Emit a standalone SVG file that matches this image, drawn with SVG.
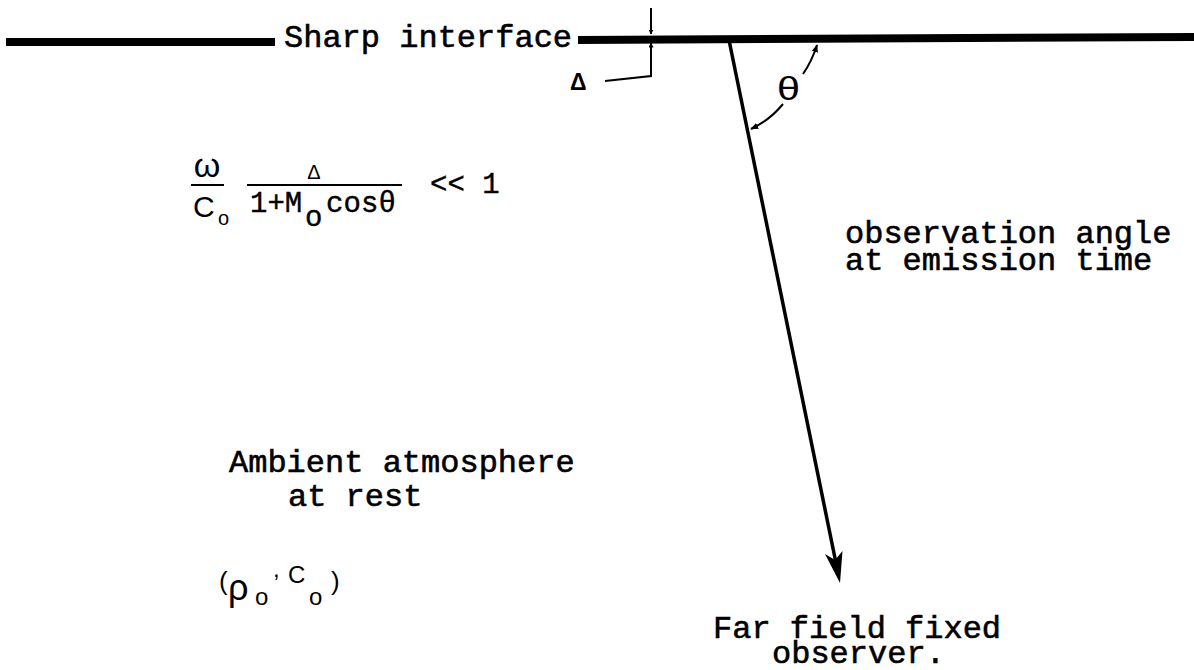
<svg xmlns="http://www.w3.org/2000/svg" width="1194" height="670" viewBox="0 0 1194 670">
<style>
.t{font-family:"Liberation Mono","Courier New",monospace;font-size:32px;fill:#000;stroke:#000;stroke-width:0.6}
.m{font-family:"Liberation Mono","Courier New",monospace;font-size:29px;fill:#000;stroke:#000;stroke-width:0.4}
.s{font-family:"Liberation Sans","DejaVu Sans",sans-serif;fill:#000}
.thin{stroke:#000;stroke-width:2;fill:none}
</style>
<defs>
<marker id="ah" viewBox="0 0 10 10" refX="9" refY="5" markerWidth="5" markerHeight="5" markerUnits="userSpaceOnUse" orient="auto">
<path d="M0,0 L10,5 L0,10 Z" fill="#000"/>
</marker>
<marker id="ahs" viewBox="0 0 10 10" refX="9" refY="5" markerWidth="8" markerHeight="8" markerUnits="userSpaceOnUse" orient="auto">
<path d="M0,1 L10,5 L0,9 Z" fill="#000"/>
</marker>
</defs>
<rect width="1194" height="670" fill="#fff"/>

<g id="interface">
<path d="M6,42 L275,42" stroke="#000" stroke-width="8" fill="none"/>
<path d="M578,40 L1194,37" stroke="#000" stroke-width="8" fill="none"/>
<text class="t" x="284" y="47">Sharp interface</text>
</g>

<g id="delta-label">
<text class="s" x="570" y="90" font-size="23" font-weight="bold">Δ</text>
</g>

<g id="theta-label">
<text class="s" x="777" y="100" font-size="34" font-family="DejaVu Sans" textLength="23" lengthAdjust="spacingAndGlyphs">θ</text>
</g>

<g id="condition">
<text class="s" x="207" y="177" font-size="34" text-anchor="middle" font-family="DejaVu Sans">ω</text>
<line class="thin" x1="191" y1="185" x2="224" y2="185"/>
<text class="s" x="193" y="217" font-size="30">C</text>
<text class="s" x="218" y="225" font-size="20">o</text>
<text class="s" x="314" y="179" font-size="20" text-anchor="middle">Δ</text>
<line class="thin" x1="247" y1="185" x2="402" y2="185"/>
<text class="m" x="250" y="212">1+M</text>
<text class="m" x="305" y="226" font-size="26">o</text>
<text class="m" x="326" y="212" textLength="70">cosθ</text>
<text class="m" x="430" y="193">&lt;&lt; 1</text>
</g>

<g id="observation-label">
<text class="t" x="845" y="243">observation angle</text>
<text class="t" x="845" y="270">at emission time</text>
</g>

<g id="ambient-label">
<text class="t" x="229" y="472">Ambient atmosphere</text>
<text class="t" x="288" y="506">at rest</text>
<g class="s">
<text x="219" y="590" font-size="26">(</text>
<text x="228" y="600" font-size="36">ρ</text>
<text x="255" y="605" font-size="24">o</text>
<text x="273" y="577" font-size="24">,</text>
<text x="288" y="583" font-size="24">C</text>
<text x="309" y="605" font-size="24">o</text>
<text x="331" y="590" font-size="26">)</text>
</g>
</g>

<g id="observer-label">
<text class="t" x="713" y="638">Far field fixed</text>
<text class="t" x="772" y="663">observer.</text>
</g>

<g id="connectors">
<line x1="729" y1="40" x2="836" y2="563" stroke="#000" stroke-width="3.5"/>
<path d="M840,583 L825,554 L835,560 L842.5,551 Z" fill="#000"/>
<line class="thin" x1="651" y1="8" x2="651" y2="34" marker-end="url(#ah)"/>
<polyline class="thin" points="605,81 651,76 651,43" marker-end="url(#ah)"/>
<path class="thin" d="M803,74 Q812,61 817,45" marker-end="url(#ahs)"/>
<path class="thin" d="M783,104 Q770,120 751,129" marker-end="url(#ahs)"/>
</g>
</svg>
